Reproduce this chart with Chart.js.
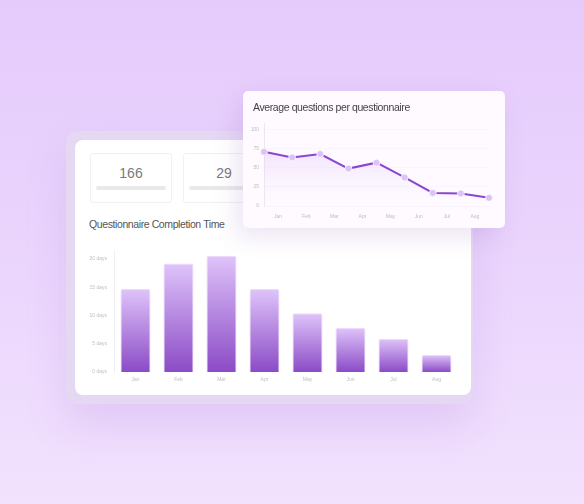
<!DOCTYPE html>
<html>
<head>
<meta charset="utf-8">
<script src="https://cdn.jsdelivr.net/npm/chart.js@4/dist/chart.umd.min.js"></script>
<style>
	html, body { margin: 0; padding: 0; }
	body {
		width: 584px; height: 504px; position: relative; overflow: hidden;
		background: linear-gradient(180deg, #e5cbfc 0%, #ebd6fd 55%, #f2e2fd 100%);
		font-family: "Liberation Sans", Arial, sans-serif;
	}
	.frame {
		position: absolute; left: 66px; top: 131px; width: 407px; height: 273px;
		border-radius: 12px; background: #e5d8f3;
		box-shadow: 0 22px 40px rgba(160, 110, 210, 0.18);
	}
	.card {
		position: absolute; left: 75px; top: 140px; width: 396px; height: 255px;
		border-radius: 8px; background: #fff;
	}
	.stat {
		position: absolute; top: 153px; width: 82px; height: 50px;
		border: 1px solid #f1f1f1; border-radius: 3px; box-sizing: border-box;
	}
	.stat .num {
		position: absolute; left: 0; right: 0; top: 11px; text-align: center;
		font-size: 14px; color: #7a7a7a;
	}
	.stat .bar {
		position: absolute; left: 5px; right: 5px; top: 32px; height: 4px;
		border-radius: 2px; background: #e9e9e9;
	}
	.title {
		position: absolute; font-size: 10.5px; letter-spacing: -0.4px; color: #555;
	}
	.front {
		position: absolute; left: 243px; top: 91px; width: 262px; height: 137px;
		border-radius: 5px; background: #fefaff;
		box-shadow: -6px 8px 24px rgba(130, 80, 180, 0.16);
	}
	canvas { position: absolute; }
</style>
</head>
<body>
<div class="frame"></div>
<div class="card"></div>
<div class="stat" style="left:90px"><div class="num">166</div><div class="bar"></div></div>
<div class="stat" style="left:183px"><div class="num">29</div><div class="bar"></div></div>
<div class="title" style="left:89px;top:218px">Questionnaire Completion Time</div>
<div style="position:absolute;left:80px;top:240px;width:378px;height:146px"><canvas id="barChart"></canvas></div>
<div class="front"></div>
<div class="title" style="left:253px;top:101px;color:#444">Average questions per questionnaire</div>
<div style="position:absolute;left:243px;top:115px;width:262px;height:105px"><canvas id="lineChart"></canvas></div>
<script>
	'use strict';

	var months = ["Jan", "Feb", "Mar", "Apr", "May", "Jun", "Jul", "Aug"];
	var barValues = [14.7, 19.2, 20.6, 14.7, 10.4, 7.8, 5.9, 3.0];
	var barTicks = [0, 5, 10, 15, 20];

	var lineSteps = ["1", "2", "3", "4", "5", "6", "7", "8", "9"];
	var lineValues = [70.5, 63.2, 67.6, 48.7, 56.4, 37.2, 17, 16.3, 10.6];
	var lineTicks = [0, 25, 50, 75, 100];

	var tickFont = { family: "Liberation Sans", size: 5 };
	var tickColor = "#bdbdbd";

	function keepTicks(list) {
		return function(scale) {
			scale.ticks = list.map(function(v) { return { value: v }; });
		};
	}

	function barFill(ctx) {
		var chart = ctx.chart;
		if (!chart.chartArea || ctx.parsed == null) {
			return "#b27ee0";
		}
		var y = chart.scales.y;
		var g = chart.ctx.createLinearGradient(0, y.getPixelForValue(ctx.parsed.y), 0, y.getPixelForValue(0));
		g.addColorStop(0, "#dfc4fa");
		g.addColorStop(1, "#8b4bc6");
		return g;
	}

	new Chart(document.getElementById("barChart").getContext("2d"), {
		type: "bar",
		data: {
			labels: months,
			datasets: [{
				data: barValues,
				backgroundColor: barFill,
				borderColor: "rgba(236, 214, 252, 0.9)",
				borderWidth: 1,
				borderRadius: { topLeft: 2, topRight: 2 },
				borderSkipped: "bottom",
				barPercentage: 0.7,
				categoryPercentage: 1
			}]
		},
		options: {
			responsive: true,
			maintainAspectRatio: false,
			animation: false,
			layout: { padding: { top: 8 } },
			plugins: { legend: { display: false }, tooltip: { enabled: false } },
			scales: {
				x: {
					grid: { display: false, drawTicks: false },
					border: { display: false },
					ticks: { font: tickFont, color: tickColor, padding: 5 },
					afterFit: function(s) { s.height = 14; }
				},
				y: {
					min: 0,
					max: 21.6,
					grid: { display: false, drawTicks: false },
					border: { display: true, color: "#efefef", width: 1 },
					ticks: {
						font: tickFont, color: tickColor, padding: 7,
						callback: function(v) { return v + " days"; }
					},
					afterBuildTicks: keepTicks(barTicks),
					afterFit: function(s) { s.width = 34; }
				}
			}
		}
	});

	function lineFill(ctx) {
		var chart = ctx.chart;
		var area = chart.chartArea;
		if (!area) {
			return "rgba(220, 190, 250, 0.3)";
		}
		var g = chart.ctx.createLinearGradient(0, area.top + 20, 0, area.bottom);
		g.addColorStop(0, "rgba(222, 192, 250, 0.5)");
		g.addColorStop(1, "rgba(250, 240, 255, 0)");
		return g;
	}

	new Chart(document.getElementById("lineChart").getContext("2d"), {
		type: "line",
		data: {
			labels: lineSteps,
			datasets: [{
				data: lineValues,
				xAxisID: "x",
				borderColor: "#8a45d1",
				borderWidth: 2,
				tension: 0,
				fill: "origin",
				backgroundColor: lineFill,
				pointRadius: 3.5,
				pointBackgroundColor: "#dcc3f6",
				pointBorderColor: "rgba(255, 255, 255, 0.7)",
				pointBorderWidth: 1
			}]
		},
		options: {
			responsive: true,
			maintainAspectRatio: false,
			animation: false,
			layout: { padding: { top: 7, right: 16 } },
			plugins: { legend: { display: false }, tooltip: { enabled: false } },
			scales: {
				x: { display: false, offset: false },
				x2: {
					type: "category",
					position: "bottom",
					labels: months,
					offset: true,
					grid: { display: false, drawTicks: false },
					border: { display: false },
					ticks: { font: tickFont, color: tickColor, padding: 8 },
					afterFit: function(s) { s.height = 14; }
				},
				y: {
					min: 0,
					max: 108,
					grid: { color: "rgba(240, 232, 248, 0.35)", drawTicks: false },
					border: { display: true, color: "#ece6f1", width: 1 },
					ticks: { font: tickFont, color: tickColor, padding: 5 },
					afterBuildTicks: keepTicks(lineTicks),
					afterFit: function(s) { s.width = 21; }
				}
			}
		}
	});
</script>
</body>
</html>
